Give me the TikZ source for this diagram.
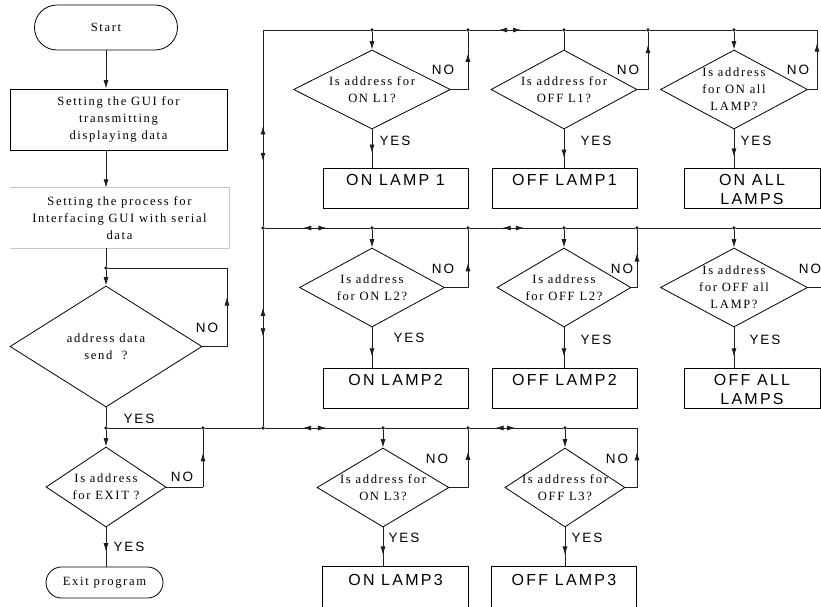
\documentclass[tikz,border=0pt]{standalone}
\usepackage{fontspec}
\setmainfont{Liberation Serif}
\newfontfamily\srf[LetterSpace=13]{Liberation Serif}
\newfontfamily\ssf[LetterSpace=14]{Liberation Sans}
\usetikzlibrary{shapes.geometric,arrows.meta,decorations.markings}
\definecolor{ink}{gray}{0.12}
\tikzset{
  ln/.style={draw=ink, line width=0.8pt},
  tipend/.style={-{Latex[length=8.5pt,width=5pt]}},
  mida/.style={postaction={decorate, decoration={markings, mark=at position #1 with {\arrow{Latex[length=8.5pt,width=5pt]}}}}},
  dbla/.style 2 args={postaction={decorate, decoration={markings, mark=at position #1 with {\arrowreversed{Latex[length=8.5pt,width=5pt]}}, mark=at position #2 with {\arrow{Latex[length=8.5pt,width=5pt]}}}}},
  dec/.style={diamond, draw=black, line width=0.8pt, inner sep=0pt},
  dtext/.style={align=center, inner sep=0pt, font=\srf\fontsize{12.6}{17}\selectfont},
  boxn/.style={rectangle, draw=black, line width=0.8pt, inner sep=0pt},
  openbox/.style={rectangle, inner sep=0pt},
  boxline/.style={draw=black, line width=0.8pt},
  btext/.style={align=center, inner sep=0pt, anchor=north, font=\ssf\fontsize{16}{19}\selectfont},
  lab/.style={inner sep=0pt, font=\ssf\fontsize{13.5}{15}\selectfont},
  term/.style={rectangle, draw=black, line width=0.8pt, inner sep=0pt, font=\srf\fontsize{12.6}{17}\selectfont},
  dot/.style={circle, fill=ink, inner sep=0pt, minimum size=3.8pt},
}
\begin{document}
\begin{tikzpicture}[x=1pt,y=-1pt]
\useasboundingbox (0,0) rectangle (821,606);
\clip (0,0) rectangle (821,606);

% ---------- left column ----------
\node[term, minimum width=143pt, minimum height=45pt, rounded corners=22.5pt] (start) at (106,27.5) {Start};
\node[boxn, minimum width=217pt, minimum height=61pt, align=center, font=\srf\fontsize{12.6}{17}\selectfont] (p1) at (118.5,119.5) {Setting the GUI for\\transmitting\\ displaying data};
\node[openbox, minimum width=219pt, minimum height=60pt, align=center, font=\srf\fontsize{12.6}{17}\selectfont] (p2) at (119.5,218) {Setting the process for\\Interfacing GUI with serial\\data};
\draw[draw=gray!45, line width=0.8pt] (p2.north west) -- (p2.north east) -- (p2.south east) -- (p2.south west);

\draw[ln, tipend] (start.south) -- (start.south |- p1.north);
\draw[ln, tipend] (start.south |- p1.south) -- (start.south |- p2.north);

\node[dot] (j0) at (106,268) {};
\draw[ln] (j0 |- p2.south) -- (j0);

\node[dec, minimum width=192pt, minimum height=121pt] (d0) at (106,346.5) {};
\node[dtext] (d0t) at (d0) {address data\\send ~?};
\draw[ln, tipend] (j0) -- (d0.north);
\coordinate (c0a) at (227,346.5);
\coordinate (c0b) at (227,268);
\draw[ln] (d0.east) -- (c0a);
\draw[ln, mida=0.63] (c0a) -- (c0b);
\draw[ln] (c0b) -- (j0);
\node[lab] (n0) at (207,328) {NO};

\node[dot] (j1) at (106,428) {};
\draw[ln] (d0.south) -- (j1);
\node[lab] (y0) at (139,419) {YES};

\node[dec, minimum width=120pt, minimum height=80pt] (dE) at (106,487) {};
\node[dtext] (dEt) at (dE) {Is address\\for EXIT ?};
\draw[ln, tipend] (j1) -- (dE.north);
\node[dot] (jE) at (203,428) {};
\coordinate (cEa) at (203,487);
\draw[ln] (dE.east) -- (cEa);
\draw[ln, mida=0.6] (cEa) -- (jE);
\node[lab] (nE) at (182,477) {NO};

\node[term, minimum width=117pt, minimum height=31pt, rounded corners=15.5pt] (exit) at (104.5,582.5) {Exit program};
\draw[ln, mida=0.62] (dE.south) -- (dE.south |- exit.north);
\node[lab] (yE) at (129,547) {YES};

% ---------- buses ----------
\coordinate (tl) at (263,30);
\coordinate (tr) at (817,30);
\node[dot] (jL2) at (263,228) {};
\node[dot] (jL3) at (263,428) {};
\node[dot] (a1) at (372,30) {};
\node[dot] (a2) at (468,30) {};
\node[dot] (a3) at (564,30) {};
\node[dot] (a4) at (648,30) {};
\node[dot] (a5) at (734,30) {};
\node[dot] (e1) at (372,228) {};
\node[dot] (e2) at (468,228) {};
\node[dot] (e3) at (564,228) {};
\node[dot] (e4) at (637,228) {};
\node[dot] (e5) at (734,228) {};
\coordinate (er) at (822,228);
\node[dot] (k1) at (383,428) {};
\node[dot] (k2) at (468,428) {};
\node[dot] (k3) at (565,428) {};
\coordinate (c3r) at (637,428);

\draw[ln, dbla={0.49}{0.67}] (tl) -- (jL2);
\draw[ln, dbla={0.395}{0.545}] (jL2) -- (jL3);

\draw[ln] (tl) -- (a1) -- (a2);
\draw[ln, dbla={0.31}{0.56}] (a2) -- (a3);
\draw[ln] (a3) -- (a4) -- (a5) -- (tr);

\draw[ln, dbla={0.36}{0.59}] (jL2) -- (e1);
\draw[ln] (e1) -- (e2);
\draw[ln, dbla={0.35}{0.59}] (e2) -- (e3);
\draw[ln] (e3) -- (e4) -- (e5) -- (er);

\draw[ln] (j1) -- (jE) -- (jL3);
\draw[ln, dbla={0.325}{0.53}] (jL3) -- (k1);
\draw[ln] (k1) -- (k2);
\draw[ln, dbla={0.27}{0.49}] (k2) -- (k3);
\draw[ln] (k3) -- (c3r);

% ---------- row 1 ----------
\node[dec, minimum width=157pt, minimum height=79pt] (d1) at (372,89.5) {};
\node[dtext] (d1t) at (d1) {Is address for\\ON L1?};
\node[dec, minimum width=146pt, minimum height=79pt] (d2) at (564,89.5) {};
\node[dtext] (d2t) at (d2) {Is address for\\OFF L1?};
\node[dec, minimum width=147pt, minimum height=79pt] (d3) at (734,89.5) {};
\node[dtext] (d3t) at (d3) {Is address\\for ON all\\LAMP?};

\draw[ln, tipend] (a1) -- (d1.north);
\draw[ln] (a3) -- (d2.north);
\draw[ln, tipend] (a5) -- (d3.north);

\coordinate (c1) at (468,89.5);
\coordinate (c2) at (648,89.5);
\coordinate (c3) at (817,89.5);
\draw[ln] (d1.east) -- (c1);
\draw[ln, mida=0.63] (c1) -- (a2);
\draw[ln] (d2.east) -- (c2);
\draw[ln, mida=0.78] (c2) -- (a4);
\draw[ln] (d3.east) -- (c3);
\draw[ln, mida=0.78] (c3) -- (tr);
\node[lab] (n1) at (443,70) {NO};
\node[lab] (n2) at (628,70) {NO};
\node[lab] (n3) at (798,70) {NO};

\node[boxn, minimum width=145pt, minimum height=40pt] (b1) at (395.5,188) {};
\node[boxn, minimum width=145pt, minimum height=40pt] (b2) at (564.5,188) {};
\node[boxn, minimum width=136pt, minimum height=40pt] (b3) at (752,188) {};
\node[btext] (b1t) at ([yshift=-7pt]b1.north) {ON LAMP 1};
\node[btext] (b2t) at ([yshift=-7pt]b2.north) {OFF LAMP1};
\node[btext] (b3t) at ([yshift=-7pt]b3.north) {ON ALL\\LAMPS};

\draw[ln, mida=0.62] (d1.south) -- (d1.south |- b1.north);
\draw[ln, mida=0.75] (d2.south) -- (d2.south |- b2.north);
\draw[ln, mida=0.72] (d3.south) -- (d3.south |- b3.north);
\node[lab] (y1) at (395,141) {YES};
\node[lab] (y2) at (596,141) {YES};
\node[lab] (y3) at (756,141) {YES};

% ---------- row 2 ----------
\node[dec, minimum width=145pt, minimum height=79pt] (d4) at (372,287.5) {};
\node[dtext] (d4t) at (d4) {Is address\\for ON L2?};
\node[dec, minimum width=134pt, minimum height=79pt] (d5) at (564,287.5) {};
\node[dtext] (d5t) at (d5) {Is address\\for OFF L2?};
\node[dec, minimum width=147pt, minimum height=79pt] (d6) at (734,287.5) {};
\node[dtext] (d6t) at (d6) {Is address\\for OFF all\\LAMP?};

\draw[ln, tipend] (e1) -- (d4.north);
\draw[ln, tipend] (e3) -- (d5.north);
\draw[ln, tipend] (e5) -- (d6.north);

\coordinate (c4) at (468,287.5);
\coordinate (c5) at (637,287.5);
\coordinate (c6) at (822,287.5);
\draw[ln] (d4.east) -- (c4);
\draw[ln, mida=0.43] (c4) -- (e2);
\draw[ln] (d5.east) -- (c5);
\draw[ln, mida=0.6] (c5) -- (e4);
\draw[ln] (d6.east) -- (c6);
\node[lab] (n4) at (443,269) {NO};
\node[lab] (n5) at (622,269) {NO};
\node[lab] (n6) at (810,269) {NO};

\node[boxn, minimum width=145pt, minimum height=40pt] (b4) at (395.5,388) {};
\node[boxn, minimum width=145pt, minimum height=40pt] (b5) at (564.5,388) {};
\node[boxn, minimum width=136pt, minimum height=40pt] (b6) at (752,388) {};
\node[btext] (b4t) at ([yshift=-7pt]b4.north) {ON LAMP2};
\node[btext] (b5t) at ([yshift=-7pt]b5.north) {OFF LAMP2};
\node[btext] (b6t) at ([yshift=-7pt]b6.north) {OFF ALL\\LAMPS};

\draw[ln, mida=0.73] (d4.south) -- (d4.south |- b4.north);
\draw[ln, mida=0.73] (d5.south) -- (d5.south |- b5.north);
\draw[ln, mida=0.73] (d6.south) -- (d6.south |- b6.north);
\node[lab] (y4) at (409,338) {YES};
\node[lab] (y5) at (596,340) {YES};
\node[lab] (y6) at (765,340) {YES};

% ---------- row 3 ----------
\node[dec, minimum width=132pt, minimum height=79pt] (d7) at (383,487.5) {};
\node[dtext] (d7t) at (d7) {Is address for\\ON L3?};
\node[dec, minimum width=120pt, minimum height=79pt] (d8) at (565,487.5) {};
\node[dtext] (d8t) at (d8) {Is address for\\OFF L3?};

\draw[ln, tipend] (k1) -- (d7.north);
\draw[ln, tipend] (k3) -- (d8.north);

\coordinate (c7) at (468,487.5);
\coordinate (c8) at (637,487.5);
\draw[ln] (d7.east) -- (c7);
\draw[ln, mida=0.63] (c7) -- (k2);
\draw[ln] (d8.east) -- (c8);
\draw[ln, mida=0.6] (c8) -- (c3r);
\node[lab] (n7) at (437,459) {NO};
\node[lab] (n8) at (617,459) {NO};

\node[openbox, minimum width=145pt, minimum height=40pt] (b7) at (395.5,587) {};
\node[openbox, minimum width=144pt, minimum height=40pt] (b8) at (564,587) {};
\draw[boxline] ([yshift=-20pt]b7.south west) -- (b7.north west) -- (b7.north east) -- ([yshift=-20pt]b7.south east);
\draw[boxline] ([yshift=-20pt]b8.south west) -- (b8.north west) -- (b8.north east) -- ([yshift=-20pt]b8.south east);
\node[btext] (b7t) at ([yshift=-7pt]b7.north) {ON LAMP3};
\node[btext] (b8t) at ([yshift=-7pt]b8.north) {OFF LAMP3};

\draw[ln, mida=0.7] (d7.south) -- (d7.south |- b7.north);
\draw[ln, mida=0.7] (d8.south) -- (d8.south |- b8.north);
\node[lab] (y7) at (404,538) {YES};
\node[lab] (y8) at (587,538) {YES};
\end{tikzpicture}
\end{document}
